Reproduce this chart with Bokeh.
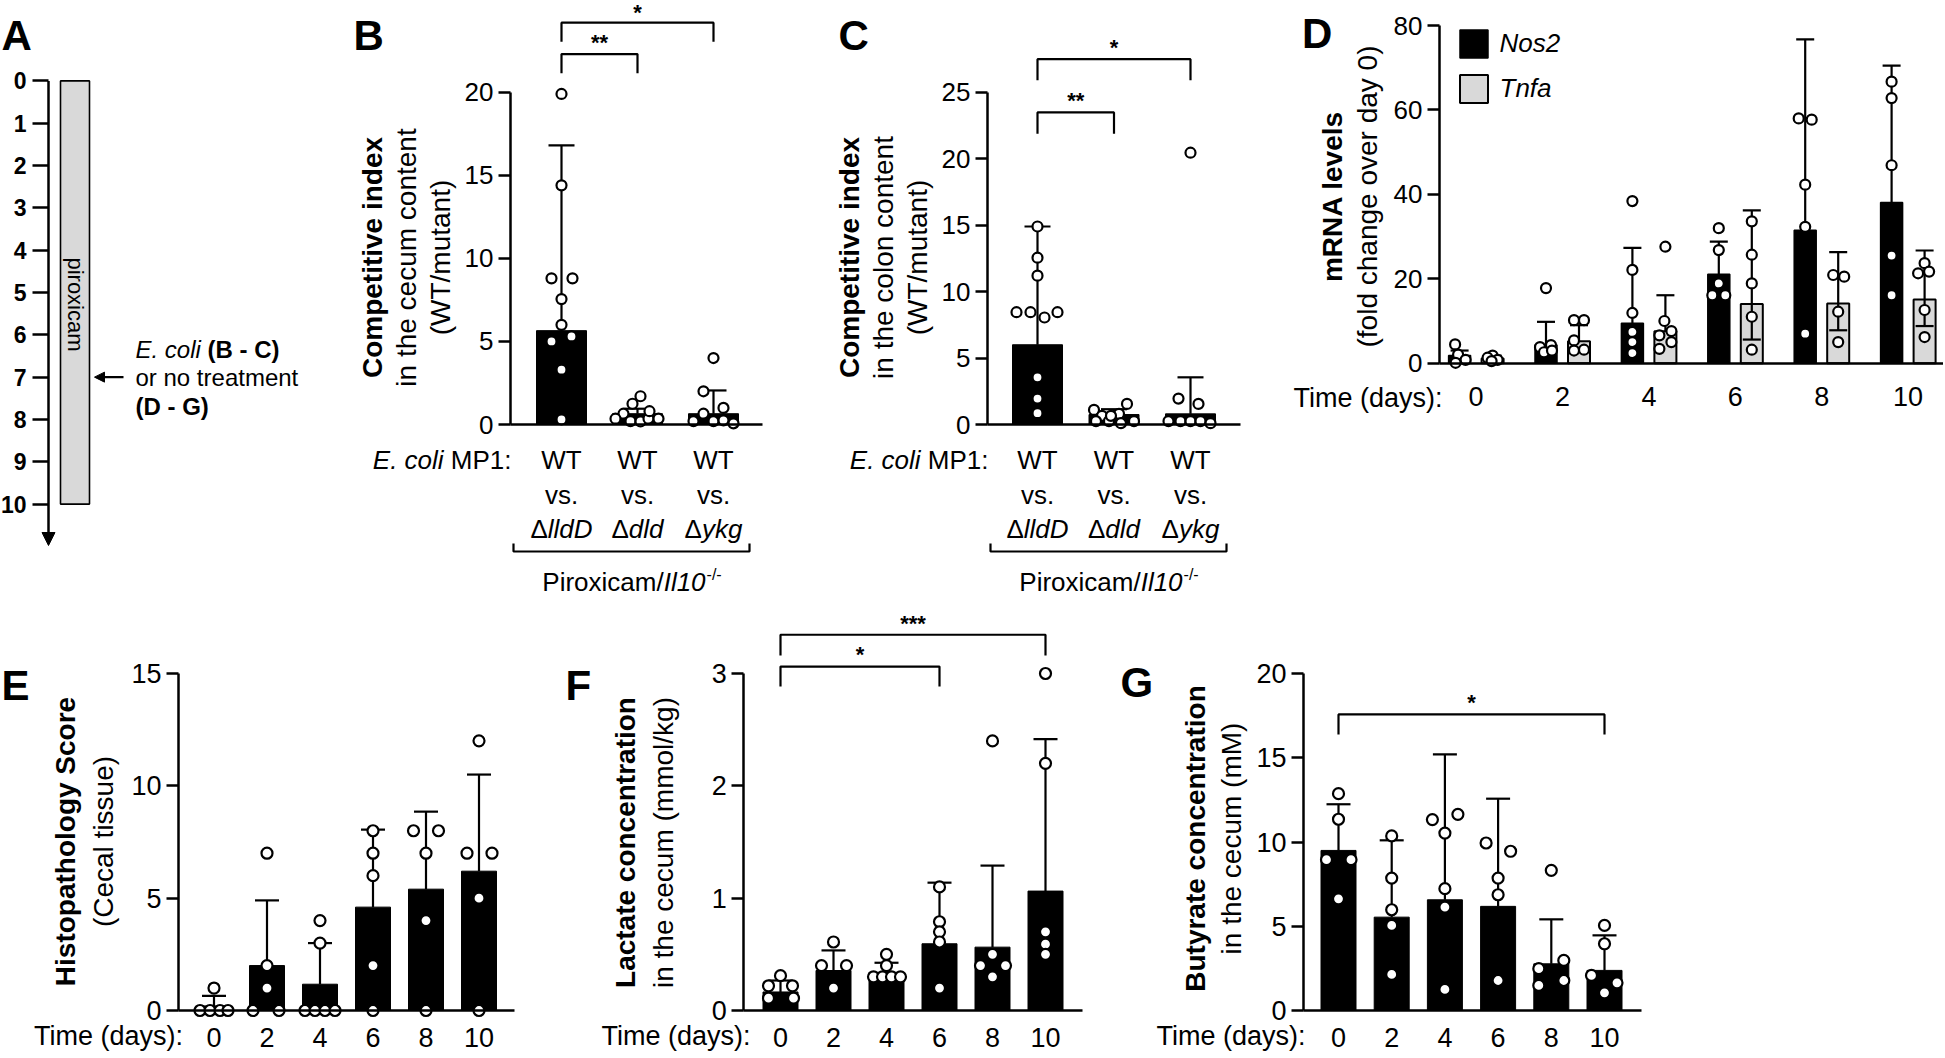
import math
from bokeh.plotting import figure
from bokeh.models import (Range1d, LinearAxis, FixedTicker, Label, Arrow, NormalHead,
                          Legend, LegendItem)
from bokeh.layouts import row, column
from bokeh.embed import file_html
from bokeh.resources import INLINE

FONT = "Liberation Sans"

# ======================= DATA =======================
# Panel A: experimental timeline (days)
A_days = [0, 1, 2, 3, 4, 5, 6, 7, 8, 9, 10]
A_treatment = [0, 10]            # piroxicam given from day 0 to day 10
A_infection_day = 7

# Panel B: competitive index, cecum content
B_mutants = ["lldD", "dld", "ykg"]
B_bar = [5.65, 0.65, 0.65]
B_upper = [16.8, 0.95, 2.05]
B_points = [
    [19.9, 14.4, 8.8, 8.8, 7.55, 6.0, 5.0, 5.3, 3.3, 0.3],
    [1.7, 1.25, 0.65, 0.35, 0.2, 0.18, 0.35, 0.35, 0.8],
    [4.0, 2.0, 1.0, 0.65, 0.2, 0.2, 0.25, 0.07],
]
B_yticks = [0, 5, 10, 15, 20]
# [group index a, group index b, bracket height, leg end, label]
B_sig = [[0, 1, 22.30, 21.15, "**"], [0, 2, 24.19, 23.04, "*"]]

# Panel C: competitive index, colon content
C_mutants = ["lldD", "dld", "ykg"]
C_bar = [6.0, 0.75, 0.8]
C_upper = [14.9, 1.15, 3.55]
C_points = [
    [14.9, 12.55, 11.2, 8.45, 8.45, 8.05, 8.45, 3.55, 1.95, 0.85],
    [1.1, 0.65, 0.8, 1.55, 0.25, 0.25, 0.1, 0.25, 0.65],
    [20.45, 1.95, 1.55, 0.25, 0.25, 0.25, 0.25, 0.1],
]
C_yticks = [0, 5, 10, 15, 20, 25]
C_sig = [[0, 1, 23.48, 21.88, "**"], [0, 2, 27.49, 25.91, "*"]]

# Panel D: mRNA levels
D_days = [0, 2, 4, 6, 8, 10]
D_nos2_bar = [1.8, 4.3, 9.45, 21.1, 31.5, 38.1]
D_nos2_upper = [3.0, 9.8, 27.3, 28.8, 76.7, 70.5]
D_tnfa_bar = [1.1, 5.2, 7.55, 14.0, 14.15, 15.1]
D_tnfa_upper = [1.8, 9.0, 16.1, 36.2, 26.3, 26.7]
D_tnfa_lower = [None, None, None, 5.6, 7.8, 8.8]
D_nos2_points = [
    [4.45, 2.05, 0.8, 0.1],
    [17.8, 4.3, 3.8, 2.6, 3.0],
    [38.4, 22.1, 11.9, 7.4, 5.0, 2.4],
    [32.0, 26.8, 18.9, 16.1, 16.1],
    [58.0, 57.7, 42.3, 32.3, 7.0],
    [66.7, 62.8, 46.9, 25.5, 16.1],
]
D_tnfa_points = [
    [1.8, 1.3, 0.8, 0.5],
    [10.2, 10.2, 5.4, 3.0, 3.2],
    [27.6, 10.0, 7.6, 6.6, 5.0, 3.4],
    [33.6, 25.7, 18.9, 11.0, 3.2],
    [20.9, 20.5, 12.2, 5.0],
    [23.7, 21.7, 21.3, 12.6, 6.2],
]
D_yticks = [0, 20, 40, 60, 80]

# Panel E: histopathology score
E_days = [0, 2, 4, 6, 8, 10]
E_bar = [0.2, 2.0, 1.17, 4.6, 5.4, 6.2]
E_upper = [0.65, 4.9, 3.0, 8.05, 8.85, 10.5]
E_points = [
    [1, 0, 0, 0, 0],
    [7, 2, 1, 0, 0],
    [4, 3, 0, 0, 0, 0],
    [8, 7, 6, 2, 0],
    [8, 8, 7, 4, 0],
    [12, 7, 7, 5, 0],
]
E_yticks = [0, 5, 10, 15]

# Panel F: lactate
F_days = [0, 2, 4, 6, 8, 10]
F_bar = [0.165, 0.356, 0.34, 0.594, 0.564, 1.063]
F_upper = [0.267, 0.535, 0.425, 1.138, 1.29, 2.415]
F_points = [
    [0.31, 0.22, 0.22, 0.11, 0.11],
    [0.61, 0.40, 0.40, 0.20],
    [0.50, 0.40, 0.30, 0.30, 0.30, 0.30],
    [1.10, 0.79, 0.70, 0.61, 0.20],
    [2.40, 0.50, 0.40, 0.40, 0.30],
    [3.00, 2.20, 0.70, 0.59, 0.50],
]
F_yticks = [0, 1, 2, 3]
F_sig = [[0, 3, 3.062, 2.884, "*"], [0, 5, 3.345, 3.160, "***"]]

# Panel G: butyrate
G_days = [0, 2, 4, 6, 8, 10]
G_bar = [9.5, 5.54, 6.57, 6.18, 2.77, 2.38]
G_upper = [12.24, 10.1, 15.2, 12.57, 5.41, 4.46]
G_points = [
    [12.87, 11.35, 8.95, 8.95, 6.63],
    [10.36, 7.86, 5.98, 5.05, 2.14],
    [11.33, 11.64, 10.53, 7.23, 6.14, 1.25],
    [9.94, 9.45, 7.86, 6.87, 1.78],
    [8.32, 2.97, 2.48, 1.78, 1.49],
    [5.05, 3.96, 2.08, 1.64, 1.05],
]
G_yticks = [0, 5, 10, 15, 20]
G_sig = [[0, 5, 17.57, 16.38, "*"]]

# ============ layout: horizontal point offsets (pixels) ============
B_dx = [[0, 0, -10, 11, 0, 0, -10, 10, 0, 0],
        [3, -5, -14, -22, -7, 3, 11, 21, 12],
        [0, -10, 10, -10, -20, 0, 10, 20]]
C_dx = [[0, 0, 0, -21, -7, 7, 20, 0, 0, 0],
        [-20, -12, 5, 13, -18, -5, 7, 20, -3],
        [0, -12, 8, -22, -10, 0, 10, 20]]
D_nos2_dx = [[-4.5, -1.5, 6, -4], [0, 5, -6, -2, 6], [0, 0, 0, 0, 0, 0],
             [0, 0, 0, -6.5, 6.5], [-6.5, 6.5, 0, 0, 0], [0, 0, 0, 0, 0]]
D_tnfa_dx = [[0, -5, 5, -1], [-5, 5, -5, -5, 5], [0, -1, 6, -6, 6, -6],
             [0, 0, 0, 0, 0], [-5, 6, 0, 0], [0, 4.5, -6.5, 0, 0]]
E_dx = [[0, -14, -4, 6, 14], [0, 0, 0, -14, 12], [0, 0, -15, -5, 5, 15],
        [0, 0, 0, 0, 0], [-12.5, 12.5, 0, 0, 0], [0, -12, 13, 0, 0]]
F_dx = [[0, -12, 12, -12, 13], [0, -12, 13, 0], [0, 0, -13, -4, 5, 14],
        [0, 0, 0, 0, 0], [0, 0, -12, 13, 0], [0, 0, 0, 0, 0]]
G_dx = [[0, 0, -12, 12.5, 0], [0, 0, 0, 0, 0], [-12.5, 13, 0, 0, 0, 0],
        [-12, 12.5, 0, 0, 0], [0, 12.5, -12.5, 12.5, -12.5], [0, 0, -13, 12.5, 0]]

# ======================= helpers =======================
REGW = {' ': 278, '(': 333, ')': 333, '-': 333, '.': 278, '/': 278, ':': 278,
        'A': 667, 'B': 667, 'C': 722, 'D': 722, 'E': 667, 'G': 778, 'I': 278,
        'M': 833, 'N': 722, 'P': 667, 'R': 722, 'S': 667, 'T': 611, 'W': 944,
        'a': 556, 'c': 500, 'd': 556, 'e': 556, 'f': 278, 'g': 556, 'h': 556,
        'i': 222, 'k': 500, 'l': 222, 'm': 833, 'n': 556, 'o': 556, 'p': 556,
        'r': 333, 's': 500, 't': 278, 'u': 556, 'v': 500, 'x': 500, 'y': 500,
        '\u0394': 668}
BOLDW = {' ': 278, '(': 333, ')': 333, '-': 333, '*': 389, 'B': 722, 'C': 722,
         'D': 722, 'G': 778}


def tw(s, size, bold=False):
    t = BOLDW if bold else REGW
    return sum(t.get(ch, 556) for ch in s) / 1000.0 * size


class Map:
    """reference-pixel <-> data mapping of one panel"""
    def __init__(self, X0, sx, Y0, sy, flip=False):
        self.X0, self.sx, self.Y0, self.sy, self.flip = X0, sx, Y0, sy, flip

    def X(self, px):
        return (px - self.X0) / self.sx

    def Y(self, py):
        return (py - self.Y0) / self.sy if self.flip else (self.Y0 - py) / self.sy

    def px(self, x):
        return self.X0 + x * self.sx

    def py(self, y):
        return self.Y0 + y * self.sy if self.flip else self.Y0 - y * self.sy


def make_fig(cx0, cx1, cy0, cy1, m):
    p = figure(width=int(cx1 - cx0), height=int(cy1 - cy0),
               x_range=Range1d(m.X(cx0), m.X(cx1)), y_range=Range1d(m.Y(cy1), m.Y(cy0)),
               output_backend="svg", toolbar_location=None,
               x_axis_location=None, y_axis_location=None)
    p.min_border_left = p.min_border_right = 0
    p.min_border_top = p.min_border_bottom = 0
    p.outline_line_color = None
    p.grid.visible = False
    p.background_fill_color = "white"
    return p


def lab(p, m, px, py, text, size, style="normal", align="left", angle=0.0, centre=False):
    """py is the text baseline (or the line centre if centre=True)"""
    ymid = py if centre else py - 0.3465 * size
    p.add_layout(Label(x=m.X(px), y=m.Y(ymid), text=text, text_font=FONT,
                       text_font_size=f"{size}px", text_font_style=style,
                       text_align=align, text_baseline="middle", angle=angle,
                       text_color="black"))


def yaxis(p, m, axis_px, bounds, ticks, size=26, bold=False, tick_out=12, standoff=5):
    ax = LinearAxis(fixed_location=m.X(axis_px), bounds=bounds,
                    ticker=FixedTicker(ticks=ticks))
    ax.axis_line_width = 2.5
    ax.axis_line_color = "black"
    ax.major_tick_line_width = 2.5
    ax.major_tick_line_color = "black"
    ax.major_tick_out = tick_out
    ax.major_tick_in = 0
    ax.minor_tick_line_color = None
    ax.major_label_text_font = FONT
    ax.major_label_text_font_size = f"{size}px"
    ax.major_label_text_font_style = "bold" if bold else "normal"
    ax.major_label_text_color = "black"
    ax.major_label_standoff = standoff
    p.add_layout(ax, "left")
    return ax


def xaxis(p, m, x0_px, x1_px, ticks, size=27, standoff=10):
    ax = LinearAxis(fixed_location=0, bounds=(m.X(x0_px), m.X(x1_px)),
                    ticker=FixedTicker(ticks=ticks))
    ax.axis_line_width = 2.5
    ax.axis_line_color = "black"
    ax.major_tick_line_color = None
    ax.major_tick_out = 0
    ax.major_tick_in = 0
    ax.minor_tick_line_color = None
    ax.major_label_text_font = FONT
    ax.major_label_text_font_size = f"{size}px"
    ax.major_label_text_color = "black"
    ax.major_label_standoff = standoff
    p.add_layout(ax, "below")
    return ax


def errorbars(p, m, xs, bars, uppers, cap_px, lowers=None):
    x0, y0, x1, y1 = [], [], [], []
    c = cap_px / m.sx
    for x, b, u in zip(xs, bars, uppers):
        x0 += [x, x - c]; y0 += [b, u]; x1 += [x, x + c]; y1 += [u, u]
    if lowers is not None:
        for x, b, lo in zip(xs, bars, lowers):
            if lo is None:
                continue
            x0 += [x, x - c]; y0 += [b, lo]; x1 += [x, x + c]; y1 += [lo, lo]
    p.segment(x0=x0, y0=y0, x1=x1, y1=y1, line_color="black", line_width=2.2)


def points(p, m, xs, pts, dxs, size):
    X, Y = [], []
    for x, vals, offs in zip(xs, pts, dxs):
        for v, o in zip(vals, offs):
            X.append(x + o / m.sx)
            Y.append(v)
    p.scatter(x=X, y=Y, marker="circle", size=size, fill_color="white",
              line_color="black", line_width=2.2)


def brackets(p, m, xs, sig, star_size=22):
    for a, b, yl, yleg, star in sig:
        xa, xb = xs[a], xs[b]
        p.multi_line(xs=[[xa, xa, xb, xb]], ys=[[yleg, yl, yl, yleg]],
                     line_color="black", line_width=2.2)
        cy = max(m.py(yl) - 16.5, 7)          # centre of the asterisk glyphs
        lab(p, m, (m.px(xa) + m.px(xb)) / 2, cy + 0.57 * star_size, star,
            star_size, "bold", "center")


TOP0, TOP1, BOT1 = 0, 600, 1056

# ======================= Panel A =======================
mA = Map(48, 1.0, 80.4, 42.32, flip=True)
pA = make_fig(0, 300, TOP0, TOP1, mA)
pA.quad(left=mA.X(60), right=mA.X(89), top=A_treatment[0], bottom=A_treatment[1],
        fill_color="#d9d9d9", line_color="black", line_width=1.6)
axA = yaxis(pA, mA, 48, (A_days[0], A_days[-1]), A_days, size=23, bold=True,
            tick_out=16, standoff=6)
axA.axis_line_color = None
pA.add_layout(Arrow(x_start=0, y_start=A_days[0], x_end=0, y_end=mA.Y(545),
                    line_width=2.5, line_color="black",
                    end=NormalHead(size=13, fill_color="black", line_color="black",
                                   line_width=1)))
pA.add_layout(Arrow(x_start=mA.X(123), y_start=A_infection_day, x_end=mA.X(94),
                    y_end=A_infection_day, line_width=2.2, line_color="black",
                    end=NormalHead(size=10, fill_color="black", line_color="black",
                                   line_width=1)))
lab(pA, mA, 75, (mA.py(A_treatment[0]) + mA.py(A_treatment[1])) / 2 + 12,
    "piroxicam", 22, "normal", "center", -math.pi / 2, centre=True)
lab(pA, mA, 135, 357, "E. coli", 24, "italic")
lab(pA, mA, 135 + tw("E. coli ", 24), 357, "(B - C)", 24, "bold")
lab(pA, mA, 135, 385.5, "or no treatment", 24)
lab(pA, mA, 135, 414, "(D - G)", 24, "bold")
lab(pA, mA, 1, 50, "A", 42, "bold")


# ======================= Panels B, C =======================
def competitive_panel(cx0, cx1, m, axis_x, axis_end, ymax, yticks, mutants, bars,
                      uppers, pts, dxs, sig, letter, letter_x, where):
    p = make_fig(cx0, cx1, TOP0, TOP1, m)
    xs = list(range(len(bars)))
    p.vbar(x=xs, top=bars, bottom=0, width=50 / m.sx, fill_color="black",
           line_color="black", line_width=1)
    errorbars(p, m, xs, bars, uppers, 13)
    points(p, m, xs, pts, dxs, 10)
    yaxis(p, m, axis_x, (0, ymax), yticks, size=26)
    xaxis(p, m, axis_x, axis_end, [])
    brackets(p, m, xs, sig)
    lab(p, m, letter_x, 50, letter, 42, "bold")
    cyt = 257
    lab(p, m, axis_x - 138, cyt, "Competitive index", 28, "bold", "center", math.pi / 2, True)
    lab(p, m, axis_x - 104, cyt, where, 28, "normal", "center", math.pi / 2, True)
    lab(p, m, axis_x - 70, cyt, "(WT/mutant)", 28, "normal", "center", math.pi / 2, True)
    fs = 26
    right = axis_x + 1
    lab(p, m, right, 469, "MP1:", fs, "normal", "right")
    lab(p, m, right - tw(" MP1:", fs), 469, "E. coli", fs, "italic", "right")
    for i, name in zip(xs, mutants):
        cx = m.px(i)
        lab(p, m, cx, 469, "WT", fs, "normal", "center")
        lab(p, m, cx, 504, "vs.", fs, "normal", "center")
        total = tw("\u0394", fs) + tw(name, fs)
        left = cx - total / 2
        lab(p, m, left, 538, "\u0394", fs)
        lab(p, m, left + tw("\u0394", fs), 538, name, fs, "italic")
    gx0, gx1 = axis_x + 3, axis_x + 239
    p.multi_line(xs=[[m.X(gx0), m.X(gx0), m.X(gx1), m.X(gx1)]],
                 ys=[[m.Y(543), m.Y(551), m.Y(551), m.Y(543)]],
                 line_color="black", line_width=2.2)
    t1, t2, t3 = "Piroxicam/", "Il10", "-/-"
    w1, w2, w3 = tw(t1, fs), tw(t2, fs), tw(t3, 16)
    left = axis_x + 121 - (w1 + w2 + w3) / 2
    lab(p, m, left, 591, t1, fs)
    lab(p, m, left + w1, 591, t2, fs, "italic")
    lab(p, m, left + w1 + w2 + 1, 580, t3, 16)
    return p


mB = Map(561, 76.0, 424, 16.61)
pB = competitive_panel(300, 775, mB, 510, 762, 20, B_yticks, B_mutants, B_bar, B_upper,
                       B_points, B_dx, B_sig, "B", 353, "in the cecum content")
mC = Map(1037, 76.5, 424, 13.29)
pC = competitive_panel(775, 1255, mC, 987, 1240, 25, C_yticks, C_mutants, C_bar, C_upper,
                       C_points, C_dx, C_sig, "C", 838, "in the colon content")

# ======================= Panel D =======================
mD = Map(1475.6, 43.2, 362.7, 4.221)
pD = make_fig(1255, 1943, TOP0, TOP1, mD)
off = 16.5 / mD.sx
xn = [d - off for d in D_days]
xt = [d + off for d in D_days]
rn = pD.vbar(x=xn, top=D_nos2_bar, bottom=0, width=22 / mD.sx, fill_color="black",
             line_color="black", line_width=1.5)
rt = pD.vbar(x=xt, top=D_tnfa_bar, bottom=0, width=22 / mD.sx, fill_color="#d9d9d9",
             line_color="black", line_width=2)
errorbars(pD, mD, xn, D_nos2_bar, D_nos2_upper, 9)
errorbars(pD, mD, xt, D_tnfa_bar, D_tnfa_upper, 9, D_tnfa_lower)
points(pD, mD, xn, D_nos2_points, D_nos2_dx, 10)
points(pD, mD, xt, D_tnfa_points, D_tnfa_dx, 10)
yaxis(pD, mD, 1439, (0, 80), D_yticks, size=26)
xaxis(pD, mD, 1439, 1943, D_days, size=27, standoff=24)
leg = Legend(items=[LegendItem(label="Nos2", renderers=[rn]),
                    LegendItem(label="Tnfa", renderers=[rt])],
             location=(200.5, TOP1 - 105.9), glyph_width=35, glyph_height=35,
             label_height=35, spacing=10, padding=0, margin=0, label_standoff=9,
             label_text_font=FONT, label_text_font_size="26px",
             label_text_font_style="italic", label_text_color="black",
             border_line_color=None, background_fill_alpha=0)
pD.add_layout(leg)
lab(pD, mD, 1301.5, 48, "D", 42, "bold")
lab(pD, mD, 1332, 196, "mRNA levels", 28, "bold", "center", math.pi / 2, True)
lab(pD, mD, 1367, 196, "(fold change over day 0)", 28, "normal", "center", math.pi / 2, True)
lab(pD, mD, 1293, 406.7, "Time (days):", 27)


# ======================= Panels E, F, G =======================
def time_panel(cx0, cx1, m, axis_x, axis_end, ymax, yticks, days, bars, uppers, pts,
               dxs, sig, letter, letter_x, letter_base, t1, t2, tx1, tx2, tcy, time_x):
    p = make_fig(cx0, cx1, TOP1, BOT1, m)
    p.vbar(x=days, top=bars, bottom=0, width=35 / m.sx, fill_color="black",
           line_color="black", line_width=1)
    errorbars(p, m, days, bars, uppers, 12)
    points(p, m, days, pts, dxs, 11)
    yaxis(p, m, axis_x, (0, ymax), yticks, size=27)
    xaxis(p, m, axis_x, axis_end, days, size=27, standoff=17)
    if sig:
        brackets(p, m, days, sig)
    lab(p, m, letter_x, letter_base, letter, 42, "bold")
    lab(p, m, tx1, tcy, t1, 28, "bold", "center", math.pi / 2, True)
    lab(p, m, tx2, tcy, t2, 28, "normal", "center", math.pi / 2, True)
    lab(p, m, time_x, 1044.7, "Time (days):", 27)
    return p


mE = Map(213.5, 26.5, 1010, 22.47)
pE = time_panel(0, 560, mE, 178, 514, 15, E_yticks, E_days, E_bar, E_upper, E_points,
                E_dx, None, "E", 1, 700, "Histopathology Score", "(Cecal tissue)",
                65, 103, 841, 33.6)
mF = Map(780, 26.5, 1010, 112.33)
pF = time_panel(560, 1100, mF, 743.3, 1081.7, 3, F_yticks, F_days, F_bar, F_upper,
                F_points, F_dx, F_sig, "F", 565, 700, "Lactate concentration",
                "in the cecum (mmol/kg)", 625, 663, 842, 601)
mG = Map(1338, 26.6, 1010, 16.85)
pG = time_panel(1100, 1943, mG, 1303, 1640.5, 20, G_yticks, G_days, G_bar, G_upper,
                G_points, G_dx, G_sig, "G", 1120, 697, "Butyrate concentration",
                "in the cecum (mM)", 1194.6, 1231, 838, 1156)

layout = column(row(pA, pB, pC, pD), row(pE, pF, pG))
open("out.html", "w").write(file_html(layout, INLINE))
